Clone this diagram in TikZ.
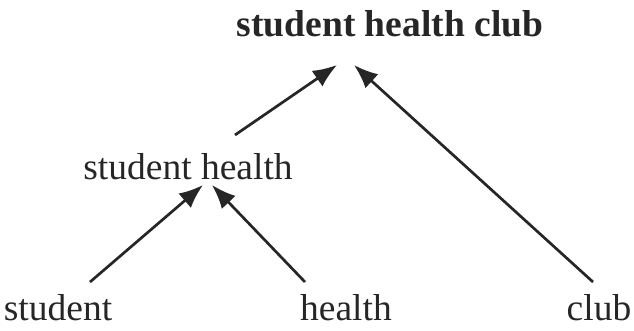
\documentclass[tikz,border=0pt]{standalone}
\usepackage{fontspec}
\setmainfont{Liberation Serif}
\usetikzlibrary{arrows.meta}

\begin{document}
\begin{tikzpicture}[x=1pt, y=-1pt, >={Latex[length=24pt,width=19pt]},
  word/.style={anchor=base, inner sep=0pt, text=black!85, font=\fontsize{37.5}{44}\selectfont},
  link/.style={line width=2.7pt, draw=black!85, ->}]

\useasboundingbox (0,0) rectangle (634,331);

% Words
\node[word] (student) at (58,320) {student};
\node[word] (health) at (346,320) {health};
\node[word] (club) at (599,320) {club};
\node[word] (sh) at (188,180) {student health};
\node[word, font=\fontsize{37.5}{44}\selectfont\bfseries] (shc) at (390,37) {student health club};

% Arrow ends
\coordinate (s0) at (90,282);
\coordinate (h0) at (305,282);
\coordinate (c0) at (593,282);
\coordinate (sh0) at (235,135);
\coordinate (shin) at (203,185);
\coordinate (shin2) at (212,185);
\coordinate (top1) at (337,65);
\coordinate (top2) at (354,65);

% First level
\draw[link] (s0) -- (shin);
\draw[link] (h0) -- (shin2);

% Second level
\draw[link] (sh0) -- (top1);
\draw[link] (c0) -- (top2);

\end{tikzpicture}
\end{document}
